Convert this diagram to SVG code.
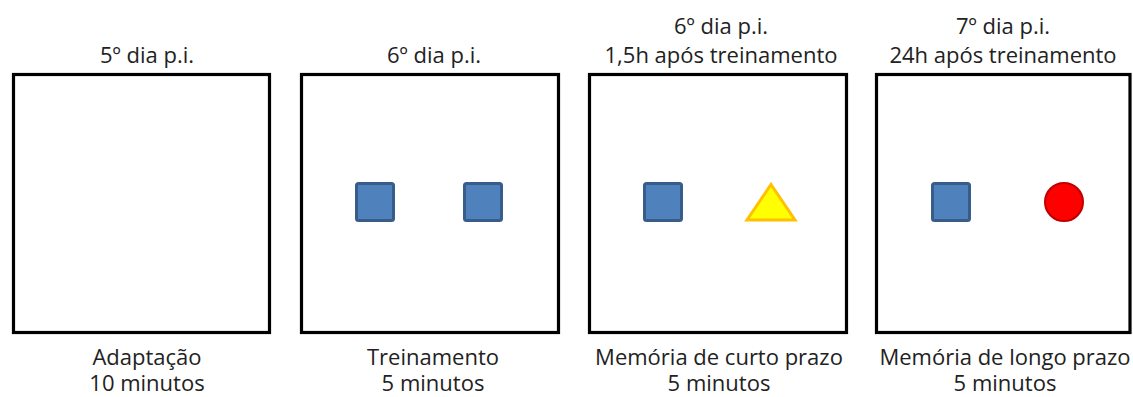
<svg xmlns="http://www.w3.org/2000/svg" width="1133" height="397" viewBox="0 0 1133 397">
<style>
.box{fill:#ffffff;stroke:#000000;stroke-width:3.2}
.sq{fill:#4f81bd;stroke:#385d8a;stroke-width:3}
.tri{fill:#ffff00;stroke:#ffc000;stroke-width:3;stroke-linejoin:miter}
.cir{fill:#ff0000;stroke:#c00000;stroke-width:2}
text{font-family:"Open Sans","Liberation Sans",sans-serif;font-size:22px;fill:#222222;text-anchor:middle}
</style>
<rect width="1133" height="397" fill="#ffffff"/>
<g id="node-adaptacao">
<text x="147" y="63">5º dia p.i.</text>
<rect class="box" x="13.5" y="74.5" width="256" height="258"/>
<text x="147" y="365">Adaptação</text>
<text x="147" y="391">10 minutos</text>
</g>
<g id="node-treinamento">
<text x="434" y="63">6º dia p.i.</text>
<rect class="box" x="301.5" y="74.5" width="257" height="258"/>
<rect class="sq" x="356.5" y="183.5" width="37" height="37" rx="2"/>
<rect class="sq" x="464.5" y="183.5" width="37" height="37" rx="2"/>
<text x="433" y="365">Treinamento</text>
<text x="433" y="391">5 minutos</text>
</g>
<g id="node-curto-prazo">
<text x="721" y="34">6º dia p.i.</text>
<text x="721" y="63">1,5h após treinamento</text>
<rect class="box" x="589.5" y="74.5" width="257" height="258"/>
<rect class="sq" x="644.5" y="183.5" width="37" height="37" rx="2"/>
<polygon class="tri" points="771,184.5 795,220 747,220"/>
<text x="719" y="365">Memória de curto prazo</text>
<text x="719" y="391">5 minutos</text>
</g>
<g id="node-longo-prazo">
<text x="1003" y="34">7º dia p.i.</text>
<text x="1003" y="63">24h após treinamento</text>
<rect class="box" x="876.5" y="74.5" width="253.5" height="258"/>
<rect class="sq" x="932.5" y="183.5" width="37" height="37" rx="2"/>
<circle class="cir" cx="1064" cy="202" r="19"/>
<text x="1005" y="365">Memória de longo prazo</text>
<text x="1005" y="391">5 minutos</text>
</g>
<g id="connectors"/>
</svg>
